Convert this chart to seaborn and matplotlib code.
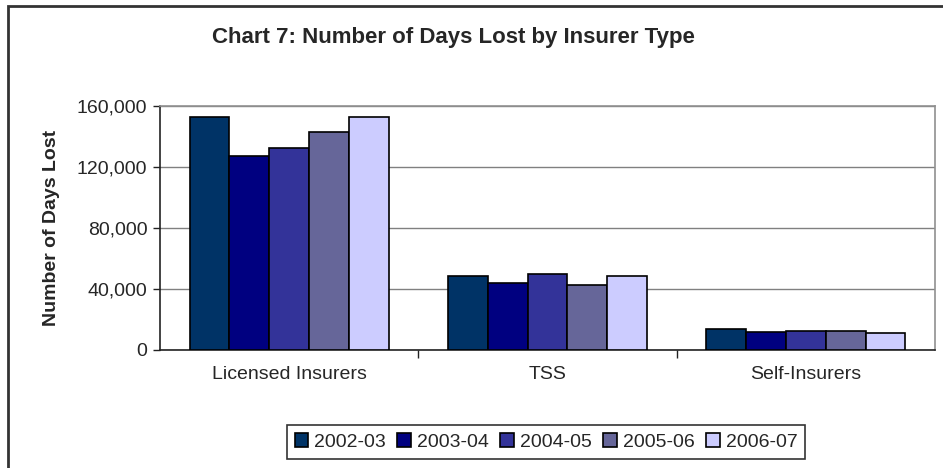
import matplotlib
matplotlib.use("Agg")
import matplotlib.pyplot as plt
import matplotlib.patches as mpatches
from matplotlib.ticker import FuncFormatter, FixedLocator
import seaborn as sns
import pandas as pd

categories = ["Licensed Insurers", "TSS", "Self-Insurers"]
years = ["2002-03", "2003-04", "2004-05", "2005-06", "2006-07"]
v_2002_03 = [153000, 48700, 13800]
v_2003_04 = [127400, 44000, 11600]
v_2004_05 = [132300, 50000, 12700]
v_2005_06 = [143000, 42700, 12700]
v_2006_07 = [153000, 48700, 11300]
colors = ["#003366", "#000080", "#333399", "#666699", "#CCCCFF"]

series = [v_2002_03, v_2003_04, v_2004_05, v_2005_06, v_2006_07]
rows = []
for y, vals in zip(years, series):
    for c, v in zip(categories, vals):
        rows.append({"Category": c, "Year": y, "Days": v})
df = pd.DataFrame(rows)

sns.set_style("white")
plt.rcParams["font.family"] = ["Liberation Sans", "DejaVu Sans"]

fig = plt.figure(figsize=(9.43, 4.68), dpi=100)
W, H = 943, 468
ax = fig.add_axes([160 / W, 1 - 350 / H, (935 - 160) / W, (350 - 106) / H])

sns.barplot(data=df, x="Category", y="Days", hue="Year", order=categories,
            hue_order=years, palette=colors, width=0.77, dodge=True,
            edgecolor="black", linewidth=1.2, saturation=1, ax=ax, legend=False,
            zorder=3)

ax.set_ylim(0, 160000)
ax.set_xlim(-0.5, 2.5)
ax.set_yticks([0, 40000, 80000, 120000, 160000])
ax.yaxis.set_major_formatter(FuncFormatter(lambda v, p: f"{int(v):,}"))
ax.grid(axis="y", color="#808080", linewidth=1, zorder=0)
ax.set_axisbelow(True)

for s in ["left", "bottom"]:
    ax.spines[s].set_color("#222222")
    ax.spines[s].set_linewidth(1.2)
for s in ["top", "right"]:
    ax.spines[s].set_color("#909090")
    ax.spines[s].set_linewidth(1.2)

ax.tick_params(axis="y", which="major", left=True, length=5, width=1,
               color="#222222", labelsize=14, pad=4)
ax.tick_params(axis="x", which="major", bottom=False, labelsize=14, pad=8)
ax.xaxis.set_minor_locator(FixedLocator([0.5, 1.5]))
ax.tick_params(axis="x", which="minor", bottom=True, length=6, width=1,
               color="#222222")

ax.set_xlabel("")
ax.set_ylabel("Number of Days Lost", fontsize=14, fontweight="bold", labelpad=12)

fig.text(453 / W, 1 - 38 / H, "Chart 7: Number of Days Lost by Insurer Type",
         ha="center", va="center", fontsize=16, fontweight="bold")

handles = [mpatches.Patch(facecolor=c, edgecolor="black", linewidth=1.2, label=y)
           for c, y in zip(colors, years)]
leg = fig.legend(handles=handles, loc="center", bbox_to_anchor=(546 / W, 1 - 442 / H),
                 ncol=5, fontsize=14, frameon=True, fancybox=False,
                 handlelength=0.7, handleheight=0.7, handletextpad=0.3,
                 columnspacing=0.6, borderpad=0.4, edgecolor="black")
leg.get_frame().set_linewidth(1.2)

frame = mpatches.Rectangle((8 / W, -0.05), 1.0, 1 - 6 / H + 0.05,
                           transform=fig.transFigure, fill=False,
                           edgecolor="#333333", linewidth=2)
fig.patches.append(frame)

fig.savefig("out.png", dpi=100)
